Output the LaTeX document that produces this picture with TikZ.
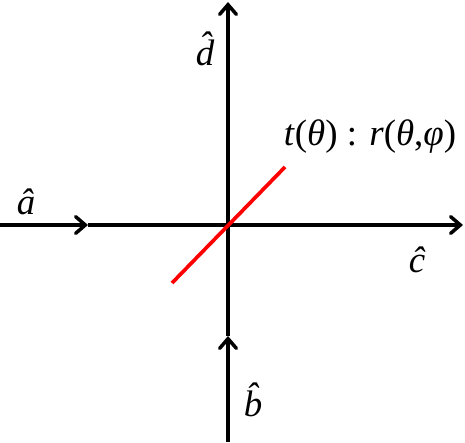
\documentclass[tikz,border=0pt]{standalone}
\usepackage{fontspec}
\setmainfont{Liberation Serif}
\usetikzlibrary{arrows.meta}

\begin{document}
\begin{tikzpicture}[x=0.02cm, y=-0.02cm,
  axis/.style={line width=2pt, black},
  tip/.style={-{Straight Barb[length=5.5pt, width=9.5pt, line cap=round]}},
  beam/.style={line width=2.1pt, red},
  lbl/.style={font=\fontsize{21}{24}\selectfont\itshape, inner sep=0pt}]
  \useasboundingbox (0,0) rectangle (465,442);
  % axes
  \coordinate (o) at (228,225);
  \coordinate (l) at (0,225);
  \coordinate (lm) at (88,225);
  \coordinate (r) at (463,225);
  \coordinate (b) at (228,442);
  \coordinate (bm) at (228,336);
  \coordinate (t) at (228,2);

  % beam splitter
  \coordinate (s1) at (172,283);
  \coordinate (s2) at (285,167);

  % labels
  \node[lbl] (na) at (26,202) {\^{a}};
  \node[lbl] (nc) at (417,260) {\^{c}};
  \node[lbl] (nd) at (205,49) {\^{d}};
  \node[lbl] (nb) at (253,400) {\^{b}};
  \node[lbl, font=\fontsize{21}{24}\selectfont] (ns) at (370,137) {\textit{t}(\textit{θ}) : \textit{r}(\textit{θ},\textit{φ})};

  \draw[axis, tip] (l) -- (lm);
  \draw[axis, tip] (lm) -- (r);
  \draw[axis, tip] (b) -- (bm);
  \draw[axis, tip] (bm) -- (t);
  \draw[beam] (s1) -- (s2);
\end{tikzpicture}
\end{document}
